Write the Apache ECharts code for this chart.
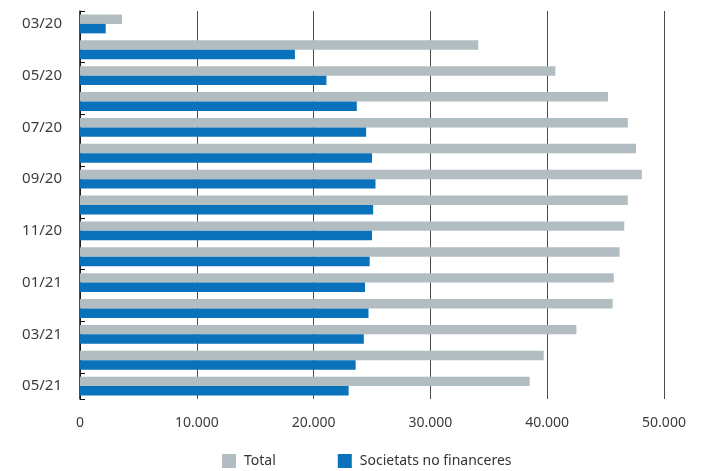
<!DOCTYPE html>
<html>
<head>
<meta charset="utf-8">
<script src="https://cdn.jsdelivr.net/npm/echarts@6/dist/echarts.min.js"></script>
<style>
html,body{margin:0;padding:0;background:#fff;}
#chart{width:703px;height:471px;}
</style>
</head>
<body>
<div id="chart"></div>
<script>
const categories = ['03/20','04/20','05/20','06/20','07/20','08/20','09/20','10/20','11/20','12/20','01/21','02/21','03/21','04/21','05/21'];
const totalValues = [3600,34100,40700,45200,46900,47600,48100,46900,46600,46200,45700,45600,42500,39700,38500];
const snfValues = [2200,18400,21100,23700,24500,25000,25300,25100,25000,24800,24400,24700,24300,23600,23000];
const seriesNames = ['Total','Societats no financeres'];

const FONT = '"Noto Sans", "Open Sans", sans-serif';
const chart = echarts.init(document.getElementById('chart'), null, {renderer:'canvas'});
chart.setOption({
  animation:false,
  backgroundColor:'#ffffff',
  grid:{left:80,right:39,top:11,bottom:72,containLabel:false},
  legend:{
    data:seriesNames,
    left:217, top:449,
    itemWidth:14, itemHeight:14, itemGap:62,
    icon:'rect',
    textStyle:{fontFamily:FONT,fontSize:14,color:'#333',padding:[0,0,0,3]}
  },
  xAxis:{
    type:'value', min:0, max:50000, interval:10000,
    axisLine:{show:false},
    axisTick:{show:false},
    splitLine:{show:true,lineStyle:{color:'#4a4a4a',width:1}},
    axisLabel:{
      margin:17,
      fontFamily:FONT,fontSize:14,color:'#3c3c3c',
      formatter:function(v){return v===0?'0':v.toLocaleString('de-DE');}
    }
  },
  yAxis:{
    type:'category', data:categories, inverse:true,
    axisLine:{show:true,lineStyle:{color:'#111',width:1.5}},
    axisTick:{show:true,inside:true,length:5,interval:1,alignWithLabel:false,lineStyle:{color:'#111',width:1}},
    axisLabel:{interval:1,margin:18,fontFamily:FONT,fontSize:15,color:'#3c3c3c'},
    splitLine:{show:false}
  },
  series:[
    {name:seriesNames[0],type:'bar',data:totalValues,barGap:'0%',barCategoryGap:'27%',
     itemStyle:{color:'#b1bdc1'}},
    {name:seriesNames[1],type:'bar',data:snfValues,
     itemStyle:{color:'#0a72ba'}}
  ]
});
</script>
</body>
</html>
